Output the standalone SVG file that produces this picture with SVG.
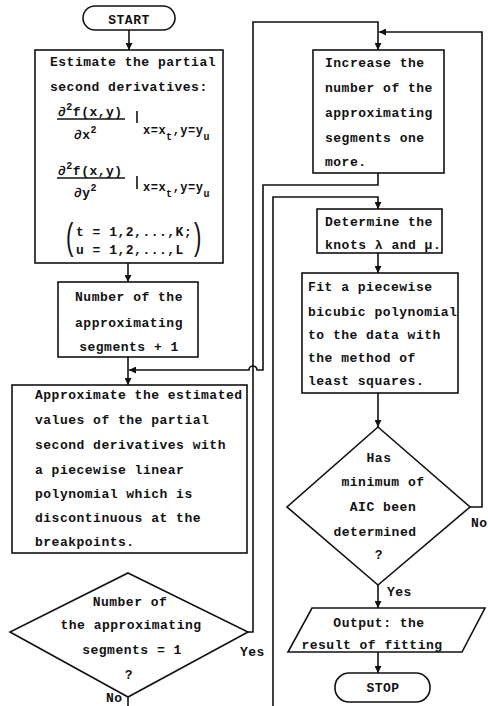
<svg xmlns="http://www.w3.org/2000/svg" width="488" height="706" viewBox="0 0 488 706">
<defs>
<marker id="ah" viewBox="0 0 10 10" refX="10" refY="5" markerWidth="7" markerHeight="7" markerUnits="userSpaceOnUse" orient="auto"><path d="M0,0 L10,5 L0,10 z" fill="#111"/></marker>
</defs>
<style>
.s{fill:#fff;stroke:#111;stroke-width:1.6}
.c{fill:none;stroke:#111;stroke-width:1.6}
text{font-family:"Liberation Mono","DejaVu Sans Mono",monospace;font-weight:bold;font-size:13px;letter-spacing:0.5px;fill:#111}
.m{text-anchor:middle}
.sm{font-size:10px}
.sb{font-size:12px}
.p{font-family:"Liberation Sans",sans-serif;font-weight:normal;font-size:37px;letter-spacing:0}
</style>
<rect width="488" height="706" fill="#fff"/>

<g id="connectors" class="c">
<path d="M129,30 V50" marker-end="url(#ah)"/>
<path d="M128,263 V282" marker-end="url(#ah)"/>
<path d="M128,357 V385" marker-end="url(#ah)"/>
<path d="M378,173 V185 H263 V370 H257 A4,4 0 0 0 249,370 H129" marker-end="url(#ah)"/>
<path d="M128,697 V706"/>
<path d="M248,632 H253 V22 H378 V50" marker-end="url(#ah)"/>
<path d="M273,706 V197 H378 V209" marker-end="url(#ah)"/>
<path d="M378,253 V273" marker-end="url(#ah)"/>
<path d="M378,393 V427" marker-end="url(#ah)"/>
<path d="M470,507 H482 V32 H379" marker-end="url(#ah)"/>
<path d="M378,585 V608" marker-end="url(#ah)"/>
<path d="M378,652 V673" marker-end="url(#ah)"/>
</g>

<g id="start">
<rect class="s" x="83" y="6" width="92" height="24" rx="12" ry="12"/>
<text class="m" x="129" y="24">START</text>
</g>

<g id="estimate">
<rect class="s" x="35" y="50" width="188" height="213"/>
<text x="50" y="66">Estimate the partial</text>
<text x="50" y="91">second derivatives:</text>
<text x="58" y="116">∂<tspan class="sm" dy="-6">2</tspan><tspan dy="6">f(x,y)</tspan></text>
<line class="c" x1="57" y1="119" x2="125" y2="119"/>
<text x="74" y="139">∂x<tspan class="sm" dy="-6">2</tspan></text>
<line class="c" x1="137" y1="111" x2="137" y2="123"/>
<text class="sb" x="143" y="134">x=x<tspan class="sm" dy="6">t</tspan><tspan dy="-6">,y=y</tspan><tspan class="sm" dy="6">u</tspan></text>
<text x="58" y="175">∂<tspan class="sm" dy="-6">2</tspan><tspan dy="6">f(x,y)</tspan></text>
<line class="c" x1="57" y1="178" x2="125" y2="178"/>
<text x="74" y="197">∂y<tspan class="sm" dy="-6">2</tspan></text>
<line class="c" x1="137" y1="176" x2="137" y2="189"/>
<text class="sb" x="143" y="191">x=x<tspan class="sm" dy="6">t</tspan><tspan dy="-6">,y=y</tspan><tspan class="sm" dy="6">u</tspan></text>
<text class="p" transform="translate(66,249) scale(0.6,1)">(</text>
<text x="76" y="236">t = 1,2,...,K;</text>
<text x="76" y="254">u = 1,2,...,L</text>
<text class="p" transform="translate(194,249) scale(0.6,1)">)</text>
</g>

<g id="segments-plus-one">
<rect class="s" x="58" y="282" width="140" height="75"/>
<text class="m" x="129" y="301">Number of the</text>
<text class="m" x="129" y="327">approximating</text>
<text class="m" x="129" y="351">segments + 1</text>
</g>

<g id="approximate">
<rect class="s" x="12" y="385" width="235" height="168"/>
<text x="35" y="399">Approximate the estimated</text>
<text x="35" y="424">values of the partial</text>
<text x="35" y="449">second derivatives with</text>
<text x="35" y="474">a piecewise linear</text>
<text x="35" y="498">polynomial which is</text>
<text x="35" y="522">discontinuous at the</text>
<text x="35" y="546">breakpoints.</text>
</g>

<g id="decision-one">
<polygon class="s" points="128,573 248,632 128,697 10,632"/>
<text class="m" x="130" y="606">Number of</text>
<text class="m" x="131" y="629">the approximating</text>
<text class="m" x="132" y="654">segments = 1</text>
<text class="m" x="129" y="679">?</text>
<text x="240" y="656">Yes</text>
<text x="106" y="702">No</text>
</g>

<g id="increase">
<rect class="s" x="313" y="50" width="131" height="123"/>
<text x="325" y="67">Increase the</text>
<text x="325" y="92">number of the</text>
<text x="325" y="117">approximating</text>
<text x="325" y="142">segments one</text>
<text x="325" y="166">more.</text>
</g>

<g id="knots">
<rect class="s" x="317" y="209" width="125" height="44"/>
<text x="325" y="226">Determine the</text>
<text x="325" y="249">knots λ and μ.</text>
</g>

<g id="fit">
<rect class="s" x="302" y="273" width="156" height="120"/>
<text x="308" y="291">Fit a piecewise</text>
<text x="308" y="316">bicubic polynomial</text>
<text x="308" y="339">to the data with</text>
<text x="308" y="362">the method of</text>
<text x="308" y="385">least squares.</text>
</g>

<g id="decision-aic">
<polygon class="s" points="378,427 470,507 378,585 287,507"/>
<text class="m" x="379" y="462">Has</text>
<text class="m" x="383" y="486">minimum of</text>
<text class="m" x="383" y="511">AIC been</text>
<text class="m" x="375" y="536">determined</text>
<text class="m" x="379" y="559">?</text>
<text x="471" y="527">No</text>
<text x="387" y="596">Yes</text>
</g>

<g id="output">
<polygon class="s" points="312,608 485,608 462,652 288,652"/>
<text class="m" x="379" y="627">Output: the</text>
<text class="m" x="372" y="649">result of fitting</text>
</g>

<g id="stop">
<rect class="s" x="335" y="673" width="95" height="29" rx="14" ry="14"/>
<text class="m" x="383" y="692">STOP</text>
</g>
</svg>
